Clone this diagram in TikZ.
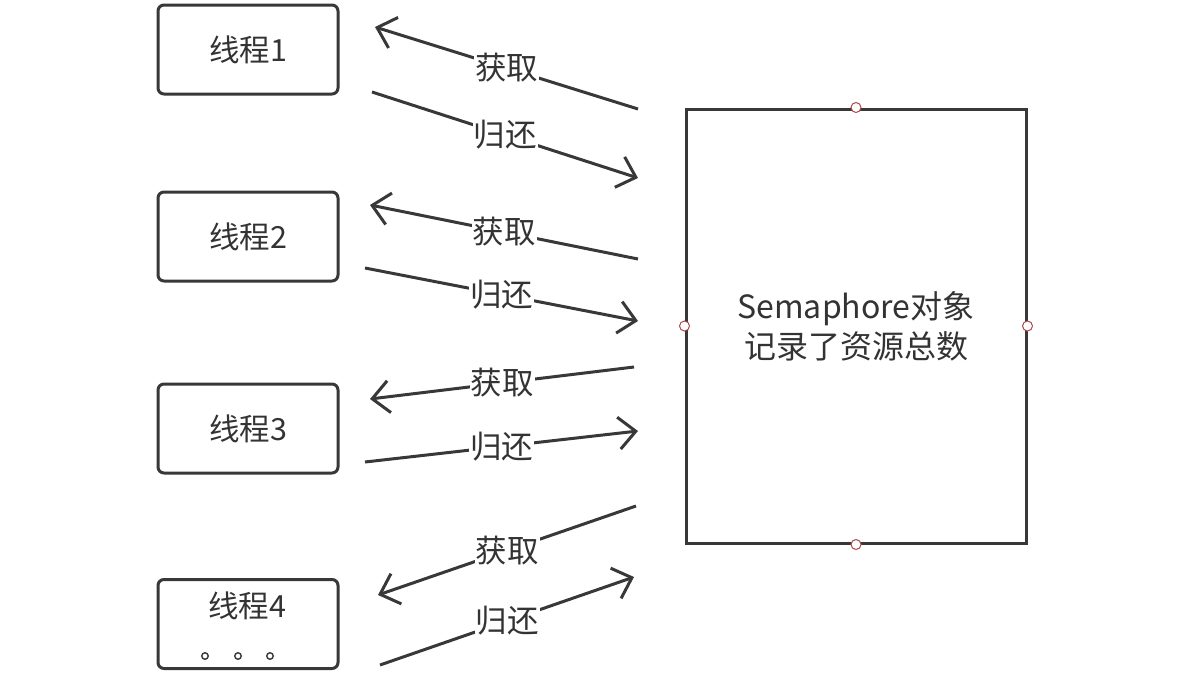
\documentclass[tikz,border=0pt]{standalone}
\usepackage{fontspec}
\newfontfamily\cjk{Noto Sans CJK SC}
\usetikzlibrary{arrows.meta}
\definecolor{ln}{HTML}{383838}
\definecolor{tx}{HTML}{333333}
\definecolor{pt}{HTML}{B04848}
\tikzset{
  thread/.style={draw=ln, line width=3pt, rounded corners=6pt, minimum width=180pt, minimum height=89pt, inner sep=0pt, text=tx, font=\cjk\fontsize{30.5}{34}\selectfont},
  semrect/.style={draw=ln, line width=3pt, minimum width=340pt, minimum height=434pt, inner sep=0pt, text=tx, align=center, font=\cjk\fontsize{32}{40}\selectfont},
  flow/.style={draw=ln, line width=3pt, -{Straight Barb[length=17pt,width=32pt,line width=3pt]}},
  lbl/.style={fill=white, inner sep=1pt, text=tx, font=\cjk\fontsize{31.5}{34}\selectfont, pos=0.5},
  handle/.style={circle, draw=pt, fill=white, line width=1pt, minimum size=10pt, inner sep=0pt},
  dot/.style={circle, draw=ln, line width=1.4pt, minimum size=6.5pt, inner sep=0pt},
}
\begin{document}
\begin{tikzpicture}[x=1pt,y=-1pt]
\useasboundingbox (0,0) rectangle (1177,675);
\node[thread] (t1) at (248,49.5) {线程1};
\node[thread] (t2) at (248,236.5) {线程2};
\node[thread] (t3) at (248,428.5) {线程3};
\node[thread, anchor=north] (t4) at (248,578) {};
\node[text=tx, font=\cjk\fontsize{30.5}{34}\selectfont] (t4l) at (247,606) {线程4};
\node[dot] (d1) at (205,656) {};
\node[dot] (d2) at (238,656) {};
\node[dot] (d3) at (270,656) {};
\node[semrect] (sem) at (856,326) {Semaphore对象\\记录了资源总数};
\node[handle] (h1) at (sem.north) {};
\node[handle] (h2) at (sem.west) {};
\node[handle] (h3) at (sem.east) {};
\node[handle] (h4) at (sem.south) {};
% endpoints
\coordinate (a1s) at (638,109); \coordinate (a1e) at (375,27);
\coordinate (b1s) at (372,92);  \coordinate (b1e) at (638,178);
\coordinate (a2s) at (638,259); \coordinate (a2e) at (370,205);
\coordinate (b2s) at (365,268); \coordinate (b2e) at (638,321);
\coordinate (a3s) at (634,367); \coordinate (a3e) at (370,399);
\coordinate (b3s) at (365,462); \coordinate (b3e) at (638,431);
\coordinate (a4s) at (636,506); \coordinate (a4e) at (378,595);
\coordinate (b4s) at (380,665); \coordinate (b4e) at (634,577);
\draw[flow] (a1s) -- node[lbl] {获取} (a1e);
\draw[flow] (b1s) -- node[lbl] {归还} (b1e);
\draw[flow] (a2s) -- node[lbl] {获取} (a2e);
\draw[flow] (b2s) -- node[lbl] {归还} (b2e);
\draw[flow] (a3s) -- node[lbl] {获取} (a3e);
\draw[flow] (b3s) -- node[lbl] {归还} (b3e);
\draw[flow] (a4s) -- node[lbl] {获取} (a4e);
\draw[flow] (b4s) -- node[lbl] {归还} (b4e);
\end{tikzpicture}
\end{document}
